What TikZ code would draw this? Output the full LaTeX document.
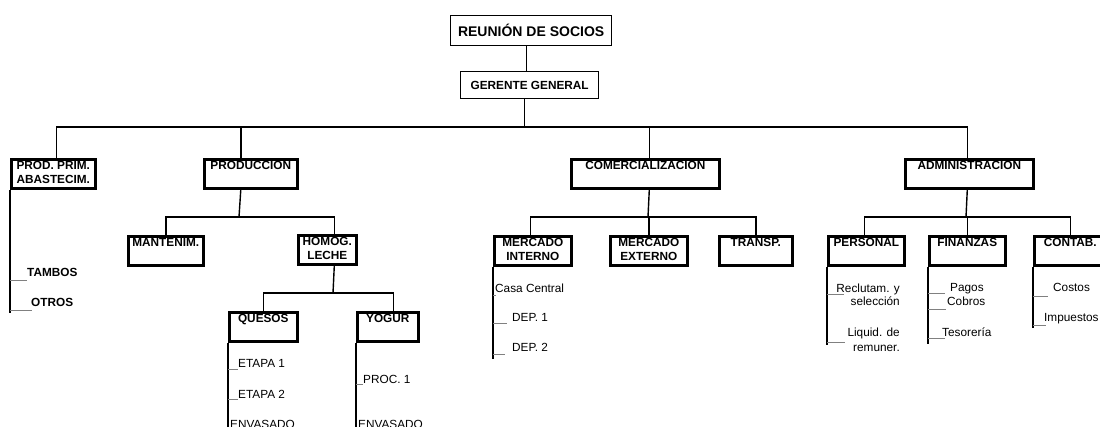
\documentclass[tikz,border=0pt]{standalone}
\usepackage{fontspec}
\setmainfont{Liberation Sans}
\begin{document}
\begin{tikzpicture}[x=1pt, y=-1pt,
  every node/.style={font=\fontsize{11.8}{14}\selectfont},
  head/.style={draw, line width=1.3pt, anchor=north west, inner sep=0pt,
    font=\bfseries\fontsize{11.8}{14}\selectfont},
  unit/.style={draw, line width=2.6pt, anchor=north west, align=center,
    text height=9pt, text depth=18pt, inner xsep=1pt, inner ysep=1pt,
    font=\bfseries\fontsize{11.8}{14}\selectfont},
  unitii/.style={unit, text height=23pt, text depth=4pt},
  link/.style={line width=1.4pt},
  rail/.style={line width=2pt},
  tick/.style={line width=0.8pt, gray},
  item/.style={inner sep=0pt, anchor=base west},
  itemb/.style={item, font=\bfseries\fontsize{11.8}{14}\selectfont}]
  \useasboundingbox (0,0) rectangle (1100,427);

  \node[head, minimum width=161pt, minimum height=30pt, font=\bfseries\fontsize{14}{16}\selectfont] (socios) at (450,15) {REUNIÓN DE SOCIOS};
  \node[head, minimum width=138pt, minimum height=27pt] (gerente) at (460,71) {GERENTE GENERAL};

  \node[unitii, minimum width=84pt] (prodprim) at (10,158)   {PROD. PRIM.\\ABASTECIM.};
  \node[unit, minimum width=93pt]  (produccion) at (203,158) {PRODUCCIÓN};
  \node[unit, minimum width=148pt] (comerc) at (570,158)     {COMERCIALIZACIÓN};
  \node[unit, minimum width=128pt] (admin) at (904,158)      {ADMINISTRACIÓN};

  \node[unit, minimum width=75pt] (mantenim) at (127,235) {MANTENIM.};
  \node[unitii, minimum width=58pt] (homog) at (297,234)  {HOMOG.\\LECHE};
  \node[unit, minimum width=68pt] (quesos) at (228,311)   {QUESOS};
  \node[unit, minimum width=61pt] (yogur) at (356,311)    {YOGUR};

  \node[unitii, minimum width=77pt] (mercint) at (493,235) {MERCADO\\INTERNO};
  \node[unitii, minimum width=77pt] (mercext) at (609,235) {MERCADO\\EXTERNO};
  \node[unit, minimum width=73pt] (transp) at (718,235)    {TRANSP.};

  \node[unit, minimum width=76pt] (personal) at (827,235) {PERSONAL};
  \node[unit, minimum width=76pt] (finanzas) at (928,235) {FINANZAS};
  \node[unit, minimum width=72pt] (contab) at (1033,235)  {CONTAB.};

  \coordinate (bus) at (524,127);
  \coordinate (pj) at (239,217);
  \coordinate (hj) at (333,293);
  \coordinate (cj) at (648,217);
  \coordinate (aj) at (966,217);

  \draw[link] ([xshift=-3]gerente.north |- socios.south) -- ([xshift=-3]gerente.north);
  \draw[link] ([xshift=-5]gerente.south) -- ([xshift=-5]gerente.south |- bus);
  \draw[link] ([xshift=3]prodprim.north) |- ([xshift=-2]admin.north |- bus) -- ([xshift=-2]admin.north);
  \draw[link] ([xshift=-10]produccion.north) -- ([xshift=-10]produccion.north |- bus);
  \draw[link] ([xshift=4]comerc.north) -- ([xshift=4]comerc.north |- bus);

  \draw[link] ([xshift=-10]produccion.south) -- (pj);
  \draw[link] (mantenim.north) |- ([xshift=7]homog.north |- pj) -- ([xshift=7]homog.north);
  \draw[link] ([xshift=7]homog.south) -- (hj);
  \draw[link] (quesos.north) |- ([xshift=5.5]yogur.north |- hj) -- ([xshift=5.5]yogur.north);

  \draw[link] ([xshift=4]comerc.south) -- (cj);
  \draw[link] ([xshift=-2.5]mercint.north) |- (transp.north |- cj) -- (transp.north);
  \draw[link] (mercext.north) -- (mercext.north |- cj);

  \draw[link] ([xshift=-2]admin.south) -- (aj);
  \draw[link] ([xshift=-2]personal.north) |- (contab.north |- aj) -- (contab.north);
  \draw[link] (finanzas.north) -- (finanzas.north |- aj);

  \node[itemb] (tambos) at (27,277) {TAMBOS};
  \node[itemb] (otros) at (31,307)  {OTROS};
  \node[item] (etapa1) at (238,368) {ETAPA 1};
  \node[item] (etapa2) at (238,398) {ETAPA 2};
  \node[item] (envq) at (230,428)   {ENVASADO};
  \node[item] (proc1) at (363,383)  {PROC. 1};
  \node[item] (envy) at (358,428)   {ENVASADO};
  \node[item] (casa) at (495,293)   {Casa Central};
  \node[item] (dep1) at (512,322)   {DEP. 1};
  \node[item] (dep2) at (512,352)   {DEP. 2};
  \node[item, anchor=base east, align=right, font=\fontsize{11.8}{13}\selectfont] (reclut) at (900,306) {Reclutam. y\\selección};
  \node[item, anchor=base east, align=right, font=\fontsize{11.8}{15}\selectfont] (liquid) at (900,352) {Liquid. de\\remuner.};
  \node[item] (pagos) at (950,292)     {Pagos};
  \node[item] (cobros) at (947,306)    {Cobros};
  \node[item] (tesoreria) at (942,337) {Tesorería};
  \node[item] (costos) at (1053,292)   {Costos};
  \node[item] (impuestos) at (1044,322) {Impuestos};

  \draw[rail] (prodprim.south west) -- ++(0,123);
  \draw[rail] (quesos.south west) -- ++(0,90);
  \draw[rail] (yogur.south west) -- ++(0,90);
  \draw[rail] (mercint.south west) -- ++(0,92);
  \draw[rail] (personal.south west) -- ++(0,78);
  \draw[rail] (finanzas.south west) -- ++(0,77);
  \draw[rail] (contab.south west) -- ++(0,61);

  \draw[tick] ([yshift=-3]tambos.base west -| prodprim.south west) -- ([yshift=-3]tambos.base west);
  \draw[tick] ([yshift=-3]otros.base west -| prodprim.south west) -- ([xshift=1,yshift=-3]otros.base west);
  \draw[tick] ([yshift=-1]etapa1.base west -| quesos.south west) -- ([yshift=-1]etapa1.base west);
  \draw[tick] ([yshift=-1]etapa2.base west -| quesos.south west) -- ([yshift=-1]etapa2.base west);
  \draw[tick] ([yshift=-1]proc1.base west -| yogur.south west) -- ([yshift=-1]proc1.base west);
  \draw[tick] ([yshift=-2]casa.base west -| mercint.south west) -- ([xshift=1,yshift=-2]casa.base west);
  \draw[tick] ([yshift=-1]dep1.base west -| mercint.south west) -- ([xshift=-5,yshift=-1]dep1.base west);
  \draw[tick] ([yshift=-2]dep2.base west -| mercint.south west) -- ([xshift=-7,yshift=-2]dep2.base west);
  \draw[tick] ([yshift=12]reclut.base west -| personal.south west) -- ([xshift=8,yshift=12]reclut.base west);
  \draw[tick] ([yshift=10]liquid.base west -| personal.south west) -- ([xshift=-2,yshift=10]liquid.base west);
  \draw[tick] ([yshift=-1]pagos.base west -| finanzas.south west) -- ([xshift=-5,yshift=-1]pagos.base west);
  \draw[tick] ([yshift=-3]cobros.base west -| finanzas.south west) -- ([xshift=-1,yshift=-3]cobros.base west);
  \draw[tick] ([yshift=-1]tesoreria.base west -| finanzas.south west) -- ([xshift=3,yshift=-1]tesoreria.base west);
  \draw[tick] ([yshift=-4]costos.base west -| contab.south west) -- ([xshift=-5,yshift=-4]costos.base west);
  \draw[tick] ([yshift=-3]impuestos.base west -| contab.south west) -- ([xshift=2,yshift=-3]impuestos.base west);
\end{tikzpicture}
\end{document}
